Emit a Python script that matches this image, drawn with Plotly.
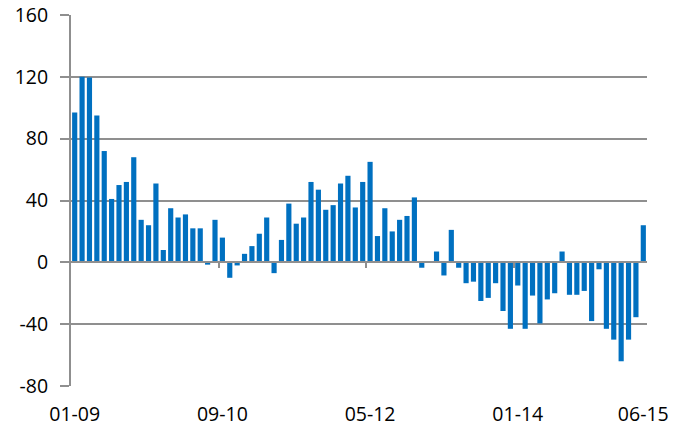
import plotly.graph_objects as go
import pandas as pd

# Month categories (Jan 2009 .. Jun 2015)
months = [d.strftime("%m-%y") for d in pd.date_range("2009-01-01", "2015-06-01", freq="MS")]

values = [
    97, 120, 119.5, 95, 72, 41, 50, 52, 68,
    27.5, 24, 51, 8, 35, 29, 31, 22, 22, -1.5, 27.5, 16,
    -10, -2, 5.5, 10.5, 18.5, 29, -7, 14.5, 38, 25, 29,
    52, 47, 34, 37, 51, 56, 35.5, 52, 65, 17, 35,
    20, 27.5, 30, 42, -3.5, 0, 7, -8.5, 21, -3.5,
    -13.5, -12.5, -25, -23, -13.5, -31.5, -43, -15, -43, -21.5, -39.5, -24, -20,
    7, -21, -21, -18.5, -38, -4.5, -43, -50, -64, -50, -35.5, 24,
]

x_tick_labels = ["01-09", "09-10", "05-12", "01-14", "06-15"]
y_ticks = [-80, -40, 0, 40, 80, 120, 160]
y_tick_text = ["-80", "-40", "0", "40", "80", "120", "160"]
boundary_ticks = [19.5, 39.5, 59.5]

GRID = "#8f8f8f"
FONT = dict(family="Open Sans", size=19.5, color="#000000")

fig = go.Figure()
fig.add_trace(go.Bar(x=months, y=values, marker_color="#0070C0",
                     marker_line_width=0, hoverinfo="x+y"))
# helper (empty) trace so the zero-line axis is rendered
fig.add_trace(go.Scatter(x=[], y=[], xaxis="x2", yaxis="y", showlegend=False,
                         hoverinfo="skip"))

fig.update_layout(
    width=687, height=427,
    margin=dict(l=63, r=48, t=7, b=49),
    paper_bgcolor="white", plot_bgcolor="white",
    showlegend=False, bargap=0.3, font=FONT,
    xaxis=dict(type="category", range=[-0.5, len(months) - 0.5],
               tickvals=x_tick_labels, ticktext=x_tick_labels,
               showline=False, ticks="", showgrid=False, zeroline=False,
               tickfont=FONT, ticklabelstandoff=14, automargin=False,
               ticklabeloverflow="allow"),
    xaxis2=dict(overlaying="x", anchor="free", position=80 / 240,
                range=[-0.5, len(months) - 0.5], tickvals=boundary_ticks,
                ticks="outside", ticklen=5, tickwidth=2, tickcolor=GRID,
                showticklabels=False, showline=True, linecolor=GRID,
                linewidth=2, showgrid=False, zeroline=False, automargin=False),
    yaxis=dict(range=[-80, 160], tickvals=y_ticks, ticktext=y_tick_text,
               showgrid=True, gridcolor=GRID, gridwidth=2, showline=True,
               linecolor=GRID, linewidth=2, ticks="outside", ticklen=9,
               tickwidth=2, tickcolor=GRID, zeroline=False, tickfont=FONT,
               ticklabelstandoff=8, automargin=False,
               ticklabeloverflow="allow"),
)

fig.write_html("out.html")
